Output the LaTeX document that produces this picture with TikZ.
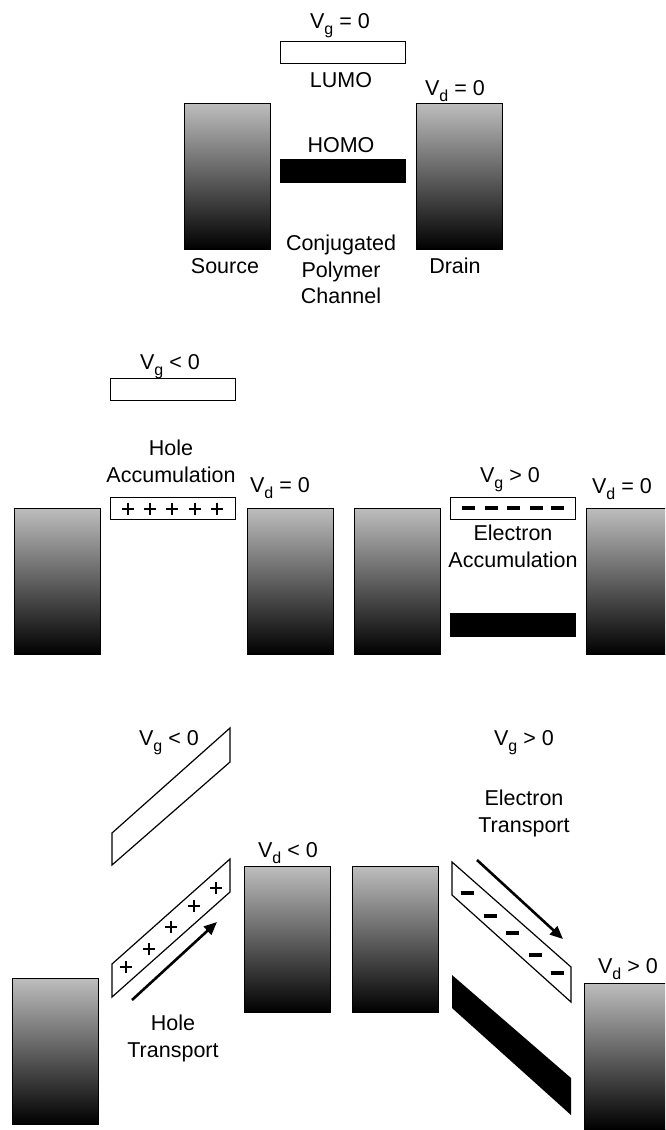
\documentclass[tikz,border=0pt]{standalone}
\usepackage{fontspec}
\setmainfont{Liberation Sans}
\usetikzlibrary{arrows.meta}

\tikzset{
  lbl/.style={font=\fontsize{21.5}{26.5}\selectfont, inner sep=0pt, anchor=base, align=center},
  electrode/.style={draw=black, line width=1.2pt, rectangle, inner sep=0pt,
    minimum width=86pt, minimum height=146pt, anchor=north west,
    top color=black!26, middle color=black!46, bottom color=black},
  levelbox/.style={draw=black, line width=1.2pt, fill=white, rectangle, inner sep=0pt,
    minimum width=125pt, minimum height=22pt, anchor=north west},
  levelbar/.style={fill=black, rectangle, inner sep=0pt,
    minimum width=126pt, minimum height=24pt, anchor=north west},
  slant/.style={draw=black, line width=1.2pt, line join=miter},
  slantbar/.style={fill=black},
  charge/.style={line width=2pt},
  echarge/.style={line width=3.4pt},
  flow/.style={line width=2.6pt, -{Triangle[length=13pt,width=11pt]}},
}
% lowered subscript for the voltage labels
\newcommand{\vsub}[1]{\raisebox{-6pt}{\fontsize{16}{16}\selectfont #1}}
% a hole drawn as a small plus sign
\newcommand{\holemark}[2]{\draw[charge] (#1-6,#2) -- (#1+6,#2) (#1,#2-6) -- (#1,#2+6);}
% an electron drawn as a short thick bar
\newcommand{\elecmark}[2]{\draw[echarge] (#1-6.5,#2) -- (#1+6.5,#2);}

\begin{document}
\begin{tikzpicture}[x=1pt,y=-1pt]
\useasboundingbox (0,0) rectangle (665,1130);
\clip (0,0) rectangle (665,1130);

% ---------- equilibrium: no bias ----------
\node[electrode] (src) at (184,103) {};
\node[electrode] (drn) at (416,103) {};
\node[levelbox] (lumo) at (280,41) {};
\node[levelbar] (homo) at (280,159) {};
\node[lbl] (vg0) at (340,28) {V\vsub{g} = 0};
\node[lbl] (lumotxt) at (341,87) {LUMO};
\node[lbl] (homotxt) at (341,152) {HOMO};
\node[lbl] (vd0) at (455,95) {V\vsub{d} = 0};
\node[lbl] (srctxt) at (225,273) {Source};
\node[lbl] (drntxt) at (455,273) {Drain};
\node[lbl, anchor=north] (chantxt) at (341,235) {Conjugated\\Polymer\\Channel};

% ---------- hole accumulation ----------
\node[electrode] (srcA) at (14,508) {};
\node[electrode] (drnA) at (247,508) {};
\node[levelbox] (lumoA) at (110,378) {};
\node[levelbox] (homoA) at (110,497) {};
\foreach \px in {128,150,172,195,217} { \holemark{\px}{508.5} }
\node[lbl] (vgA) at (170,369) {V\vsub{g} < 0};
\node[lbl, anchor=north] (holeacc) at (171,440) {Hole\\Accumulation};
\node[lbl] (vdA) at (280,492) {V\vsub{d} = 0};

% ---------- electron accumulation ----------
\node[electrode] (srcB) at (354,508) {};
\node[electrode] (drnB) at (586,508) {};
\node[levelbox] (lumoB) at (450,497) {};
\node[levelbar] (homoB) at (450,613) {};
\foreach \px in {468.5,491,513.5,536,557.5} { \elecmark{\px}{508} }
\node[lbl] (vgB) at (510,482) {V\vsub{g} > 0};
\node[lbl] (vdB) at (622,493) {V\vsub{d} = 0};
\node[lbl, anchor=north] (elecacc) at (513,525) {Electron\\Accumulation};

% ---------- hole transport ----------
\node[electrode] (srcC) at (12,978) {};
\node[electrode] (drnC) at (244,866) {};
\draw[slant] (112,833) -- (230,728) -- (230,762) -- (112,865) -- cycle;
\draw[slant] (112,964) -- (230,859) -- (230,892) -- (112,997) -- cycle;
\holemark{126}{967}
\holemark{149}{949}
\holemark{171}{927}
\holemark{194}{906}
\holemark{216}{888}
\coordinate (htail) at (132,1000);
\coordinate (hhead) at (217,922);
\draw[flow] (htail) -- (hhead);
\node[lbl] (vgC) at (169,745) {V\vsub{g} < 0};
\node[lbl] (vdC) at (288,857) {V\vsub{d} < 0};
\node[lbl, anchor=north] (holetr) at (173,1015) {Hole\\Transport};

% ---------- electron transport ----------
\node[electrode] (srcD) at (352,866) {};
\node[electrode] (drnD) at (584,983) {};
\draw[slant] (452,862) -- (571,967) -- (571,1002) -- (452,895) -- cycle;
\fill[slantbar] (452,975) -- (571,1078) -- (571,1115) -- (452,1008) -- cycle;
\elecmark{467}{893}
\elecmark{490}{916}
\elecmark{512}{933}
\elecmark{535}{955}
\elecmark{557}{973}
\coordinate (etail) at (477,860);
\coordinate (ehead) at (563,939);
\draw[flow] (etail) -- (ehead);
\node[lbl] (vgD) at (524,745) {V\vsub{g} > 0};
\node[lbl, anchor=north] (electr) at (524,790) {Electron\\Transport};
\node[lbl] (vdD) at (628,973) {V\vsub{d} > 0};
\end{tikzpicture}
\end{document}
